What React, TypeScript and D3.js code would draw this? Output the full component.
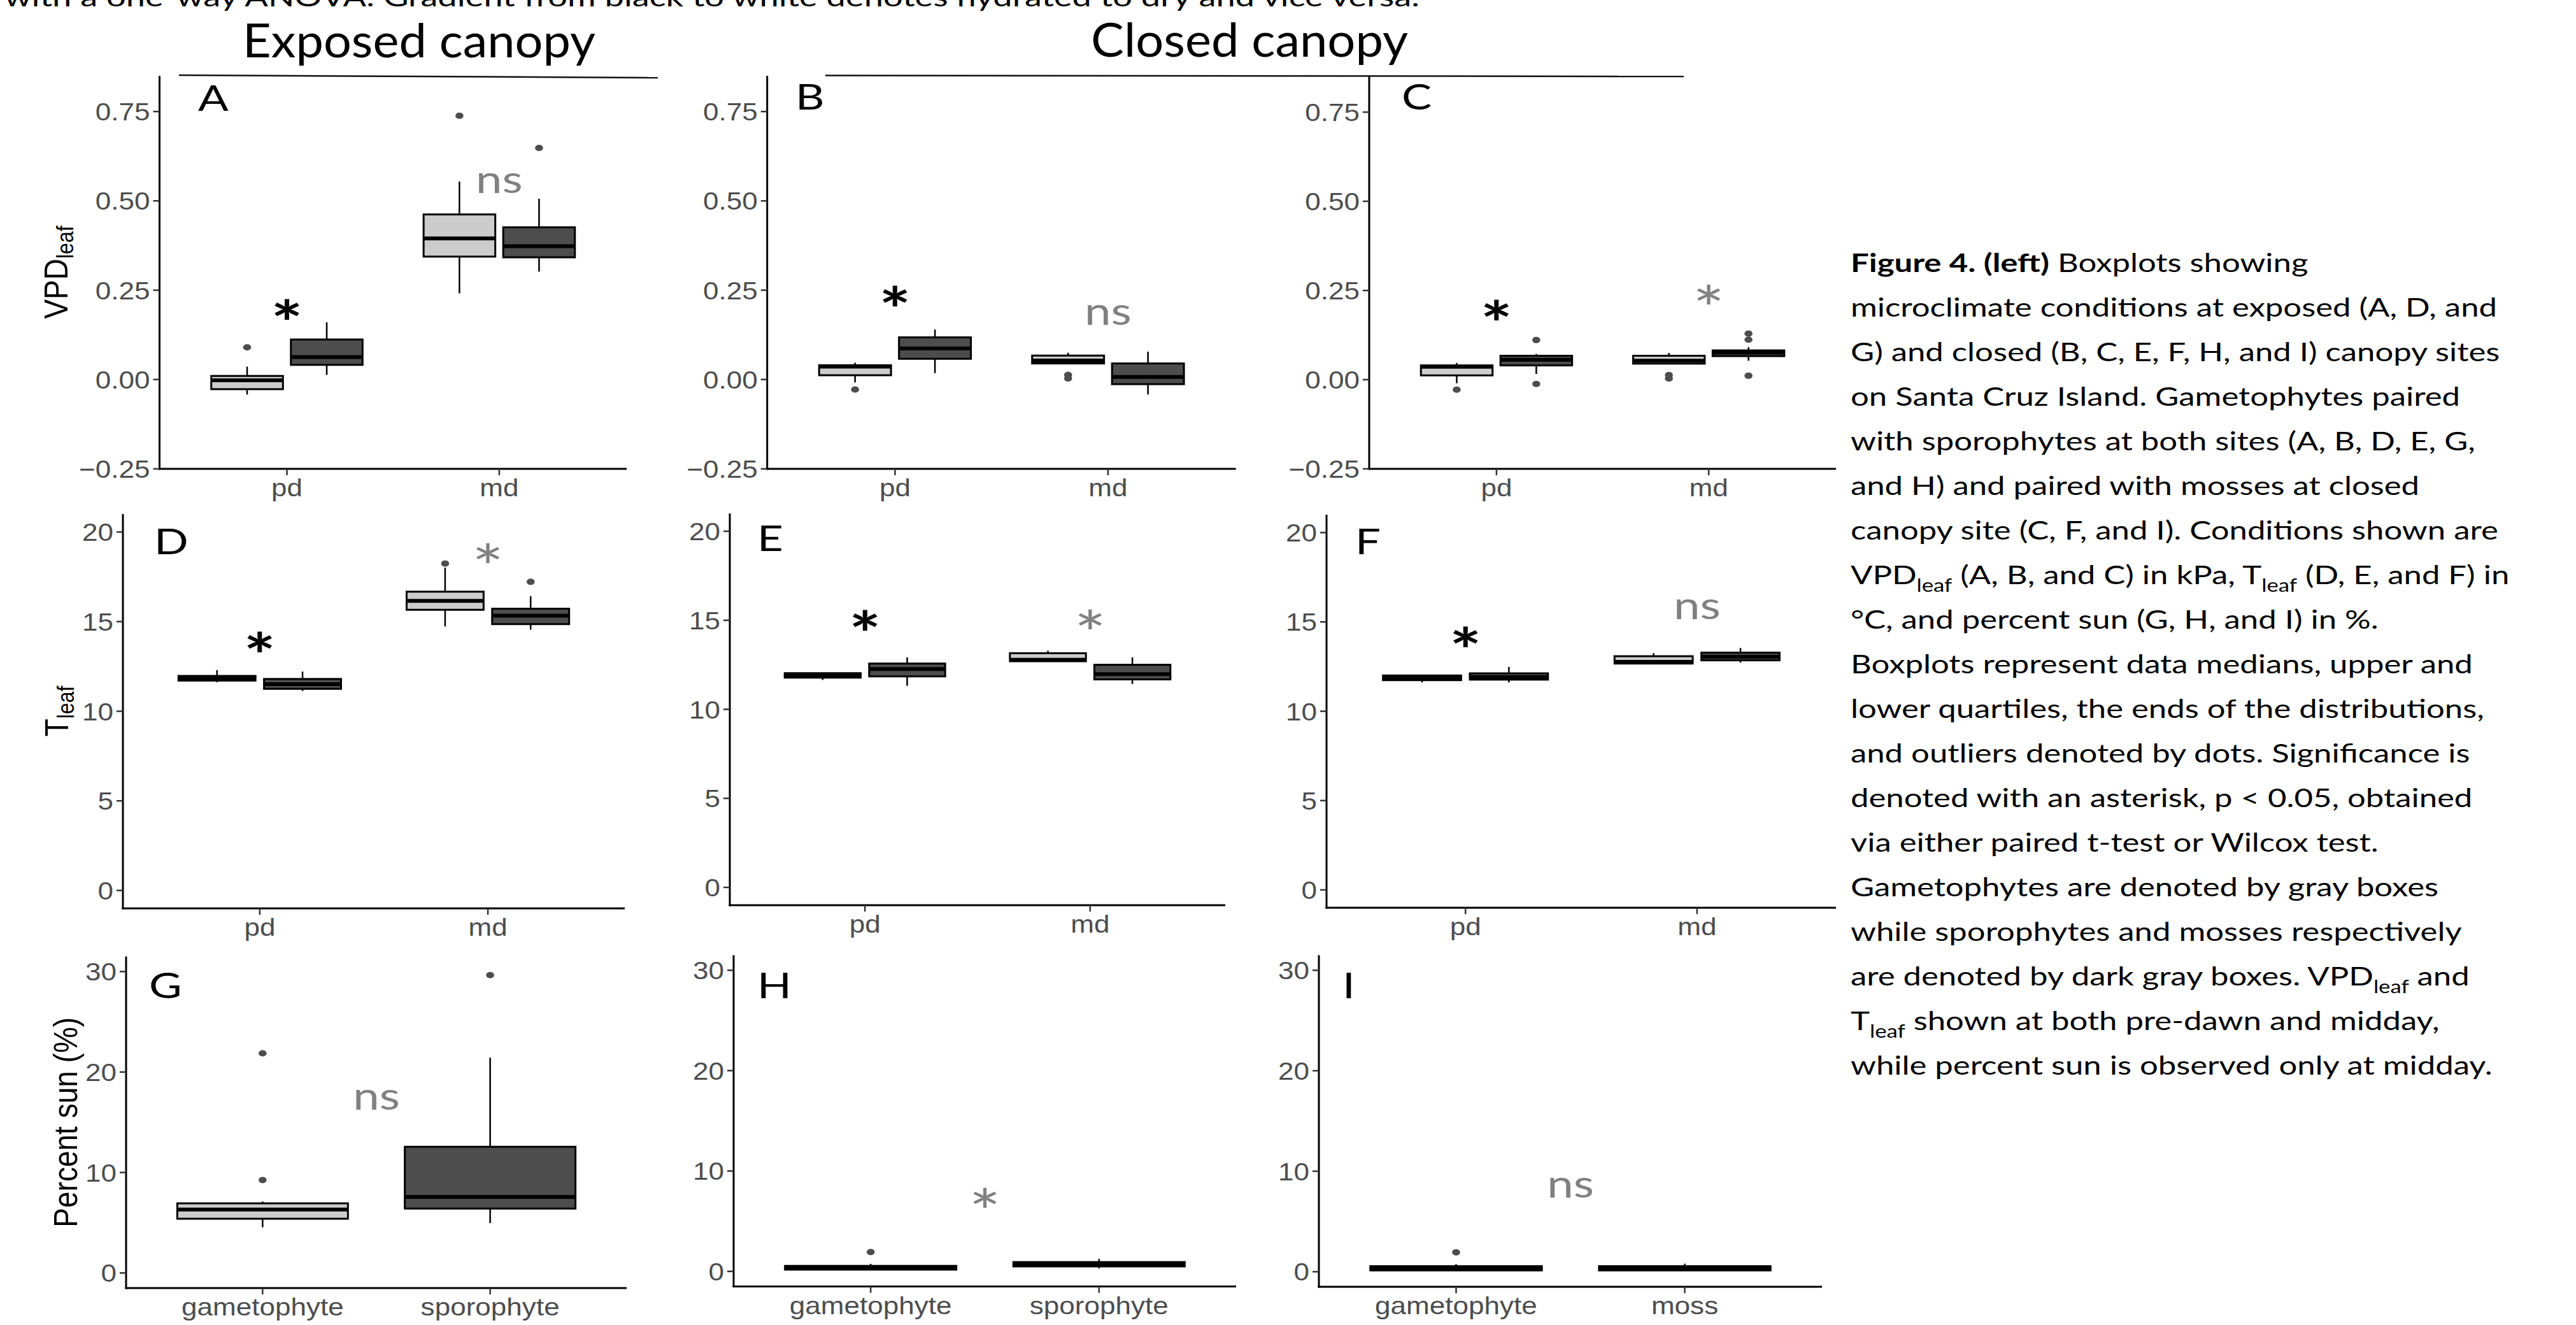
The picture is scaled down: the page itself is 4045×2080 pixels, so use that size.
import React from "react";
import * as d3 from "d3";

// the source picture is stretched sideways, so text is widened by these factors
const SX = 1.24;
const SX_PLOT = 1.13;
const SANS = "'Liberation Sans', Arial, Helvetica, sans-serif";
const CALI = "Lato, Carlito, Calibri, sans-serif";
const GAM_FILL = "#cccccc";
const PAIR_FILL = "#4d4d4d";
const NOTE_GRAY = "#808080";
const TICK_GRAY = "#4d4d4d";

const timeCats = ["pd", "md"];
const sunCatsSporo = ["gametophyte", "sporophyte"];
const sunCatsMoss = ["gametophyte", "moss"];
const groups = ["gam", "pair"];

const vpdTicks = [-0.25, 0, 0.25, 0.5, 0.75];
const tleafTicks = [0, 5, 10, 15, 20];
const sunTicks = [0, 10, 20, 30];

const vpdDomain = [-0.25, 0.85];
const tleafDomain = [-1, 21];
const sunDomain = [-1.5, 31.5];

// box rows: [category, group, lower whisker, q1, median, q3, upper whisker]
// outliers: [category, group, value]
// significance: [category ("mid" = between), label, y value, colour key]
const vpdA = [
  ["pd", "gam", -0.042, -0.027, -0.002, 0.010, 0.036],
  ["pd", "pair", 0.013, 0.041, 0.063, 0.112, 0.160],
  ["md", "gam", 0.241, 0.344, 0.395, 0.462, 0.554],
  ["md", "pair", 0.302, 0.342, 0.373, 0.426, 0.506],
];
const vpdAOut = [["pd", "gam", 0.090], ["md", "gam", 0.738], ["md", "pair", 0.648]];
const vpdASig = [["pd", "*", 0.193, "k"], ["md", "ns", 0.548, "g"]];

const vpdB = [
  ["pd", "gam", -0.008, 0.012, 0.036, 0.040, 0.047],
  ["pd", "pair", 0.018, 0.058, 0.087, 0.118, 0.140],
  ["md", "gam", 0.045, 0.045, 0.053, 0.067, 0.075],
  ["md", "pair", -0.042, -0.013, 0.007, 0.045, 0.078],
];
const vpdBOut = [["pd", "gam", -0.028], ["md", "gam", 0.013], ["md", "gam", 0.003]];
const vpdBSig = [["pd", "*", 0.231, "k"], ["md", "ns", 0.18, "g"]];

const vpdC = [
  ["pd", "gam", -0.010, 0.012, 0.036, 0.040, 0.047],
  ["pd", "pair", 0.016, 0.040, 0.056, 0.067, 0.072],
  ["md", "gam", 0.045, 0.045, 0.053, 0.067, 0.075],
  ["md", "pair", 0.053, 0.066, 0.076, 0.082, 0.091],
];
const vpdCOut = [
  ["pd", "gam", -0.028], ["pd", "pair", 0.111], ["pd", "pair", -0.012],
  ["md", "gam", 0.013], ["md", "gam", 0.003],
  ["md", "pair", 0.129], ["md", "pair", 0.112], ["md", "pair", 0.011],
];
const vpdCSig = [["pd", "*", 0.193, "k"], ["md", "*", 0.233, "g"]];

const tleafD = [
  ["pd", "gam", 11.62, 11.71, 11.85, 11.97, 12.29],
  ["pd", "pair", 11.13, 11.25, 11.51, 11.80, 12.21],
  ["md", "gam", 14.73, 15.66, 16.16, 16.67, 18.01],
  ["md", "pair", 14.55, 14.86, 15.33, 15.72, 16.42],
];
const tleafDOut = [["md", "gam", 18.24], ["md", "pair", 17.22]];
const tleafDSig = [["pd", "*", 13.8, "k"], ["md", "*", 18.7, "g"]];

const tleafE = [
  ["pd", "gam", 11.65, 11.78, 11.89, 12.03, 12.03],
  ["pd", "pair", 11.32, 11.85, 12.26, 12.57, 12.92],
  ["md", "gam", 12.70, 12.70, 12.78, 13.15, 13.29],
  ["md", "pair", 11.42, 11.68, 11.98, 12.50, 12.92],
];
const tleafEOut = [];
const tleafESig = [["pd", "*", 14.94, "k"], ["md", "*", 14.94, "g"]];

const tleafF = [
  ["pd", "gam", 11.61, 11.74, 11.87, 12.00, 12.00],
  ["pd", "pair", 11.61, 11.77, 11.91, 12.12, 12.48],
  ["md", "gam", 12.67, 12.67, 12.76, 13.08, 13.25],
  ["md", "pair", 12.72, 12.85, 13.05, 13.28, 13.54],
];
const tleafFOut = [];
const tleafFSig = [["pd", "*", 14.1, "k"], ["md", "ns", 15.67, "g"]];

const sunG = [
  ["gametophyte", "gam", 4.55, 5.40, 6.31, 6.93, 7.11],
  ["sporophyte", "pair", 4.97, 6.41, 7.56, 12.56, 21.43],
];
const sunGOut = [["gametophyte", "gam", 9.25], ["gametophyte", "gam", 21.86], ["sporophyte", "pair", 29.65]];
const sunGSig = [["mid", "ns", 17.2, "g"]];

const sunH = [
  ["gametophyte", "gam", 0.18, 0.18, 0.35, 0.55, 0.75],
  ["sporophyte", "pair", 0.30, 0.50, 0.72, 0.93, 1.25],
];
const sunHOut = [["gametophyte", "gam", 1.93]];
const sunHSig = [["mid", "*", 7.14, "g"]];

const sunI = [
  ["gametophyte", "gam", 0.13, 0.13, 0.30, 0.55, 0.75],
  ["moss", "pair", 0.13, 0.13, 0.30, 0.55, 0.80],
];
const sunIOut = [["gametophyte", "gam", 1.93]];
const sunISig = [["mid", "ns", 8.35, "g"]];

const topLine = "with a one-way ANOVA. Gradient from black to white denotes hydrated to dry and vice versa.";

const captionLines = [
  "**Figure 4. (left)** Boxplots showing",
  "microclimate conditions at exposed (A, D, and",
  "G) and closed (B, C, E, F, H, and I) canopy sites",
  "on Santa Cruz Island. Gametophytes paired",
  "with sporophytes at both sites (A, B, D, E, G,",
  "and H) and paired with mosses at closed",
  "canopy site (C, F, and I). Conditions shown are",
  "VPD_leaf (A, B, and C) in kPa, T_leaf (D, E, and F) in",
  "°C, and percent sun (G, H, and I) in %.",
  "Boxplots represent data medians, upper and",
  "lower quartiles, the ends of the distributions,",
  "and outliers denoted by dots. Significance is",
  "denoted with an asterisk, p < 0.05, obtained",
  "via either paired t-test or Wilcox test.",
  "Gametophytes are denoted by gray boxes",
  "while sporophytes and mosses respectively",
  "are denoted by dark gray boxes. VPD_leaf  and",
  "T_leaf shown at both pre-dawn and midday,",
  "while percent sun is observed only at midday.",
];

const vpdFmt = d3.format(".2f");
const intFmt = d3.format("d");

const panels = [
  { id: "A", frame: [250.5, 984, 119, 736], letter: [311, 174], cats: timeCats, dodge: true,
    dom: vpdDomain, ticks: vpdTicks, fmt: vpdFmt, boxes: vpdA, outs: vpdAOut, sig: vpdASig,
    title: ["VPD", "leaf"], titleX: 106 },
  { id: "B", frame: [1204.7, 1940.6, 119, 736], letter: [1249, 172], cats: timeCats, dodge: true,
    dom: vpdDomain, ticks: vpdTicks, fmt: vpdFmt, boxes: vpdB, outs: vpdBOut, sig: vpdBSig },
  { id: "C", frame: [2150, 2883, 120, 736], letter: [2201, 172], cats: timeCats, dodge: true,
    dom: vpdDomain, ticks: vpdTicks, fmt: vpdFmt, boxes: vpdC, outs: vpdCOut, sig: vpdCSig },
  { id: "D", frame: [193, 981, 807, 1426], letter: [242, 870], cats: timeCats, dodge: true,
    dom: tleafDomain, ticks: tleafTicks, fmt: intFmt, boxes: tleafD, outs: tleafDOut, sig: tleafDSig,
    title: ["T", "leaf"], titleX: 107 },
  { id: "E", frame: [1146, 1924, 806, 1421], letter: [1189, 865], cats: timeCats, dodge: true,
    dom: tleafDomain, ticks: tleafTicks, fmt: intFmt, boxes: tleafE, outs: tleafEOut, sig: tleafESig },
  { id: "F", frame: [2083, 2883, 808, 1425], letter: [2128, 870], cats: timeCats, dodge: true,
    dom: tleafDomain, ticks: tleafTicks, fmt: intFmt, boxes: tleafF, outs: tleafFOut, sig: tleafFSig },
  { id: "G", frame: [198, 984, 1501.5, 2022], letter: [234, 1567], cats: sunCatsSporo, dodge: false,
    dom: sunDomain, ticks: sunTicks, fmt: intFmt, boxes: sunG, outs: sunGOut, sig: sunGSig,
    title: ["Percent sun (%)", ""], titleX: 121 },
  { id: "H", frame: [1152, 1941, 1499.5, 2019.5], letter: [1189, 1567], cats: sunCatsSporo, dodge: false,
    dom: sunDomain, ticks: sunTicks, fmt: intFmt, boxes: sunH, outs: sunHOut, sig: sunHSig },
  { id: "I", frame: [2071, 2861, 1499.5, 2020], letter: [2108, 1567], cats: sunCatsMoss, dodge: false,
    dom: sunDomain, ticks: sunTicks, fmt: intFmt, boxes: sunI, outs: sunIOut, sig: sunISig },
];

function SText({ x, y, size, family, fill = "black", anchor = "start", weight = "normal", rotate = 0, sx = SX, children }: any) {
  const t = `translate(${x},${y}) scale(${sx},1)` + (rotate ? ` rotate(${rotate})` : "");
  return (
    <text transform={t} fontSize={size} fontFamily={family} fill={fill} textAnchor={anchor} fontWeight={weight}>
      {children}
    </text>
  );
}

function Panel({ p }: any) {
  const [x0, x1, yTop, yBot] = p.frame;
  const x = d3.scalePoint().domain(p.cats).range([x0, x1]).padding(0.6);
  const step = x.step();
  const y = d3.scaleLinear().domain(p.dom).range([yBot, yTop]);
  const sub = d3.scaleBand().domain(groups).range([-0.375 * step, 0.375 * step]);
  const bw = p.dodge ? sub.bandwidth() * 0.9 : 0.75 * step;
  const cx = (c: string, g: string) => (x(c) as number) + (p.dodge ? (sub(g) as number) + sub.bandwidth() / 2 : 0);

  return (
    <g>
      {p.boxes.map((b: any, i: number) => {
        const [c, g, lw, q1, med, q3, uw] = b;
        const xc = cx(c, g);
        return (
          <g key={i}>
            <line x1={xc} x2={xc} y1={y(q3)} y2={y(uw)} stroke="black" strokeWidth={2.5} />
            <line x1={xc} x2={xc} y1={y(q1)} y2={y(lw)} stroke="black" strokeWidth={2.5} />
            <rect x={xc - bw / 2} y={y(q3)} width={bw} height={y(q1) - y(q3)}
              fill={g === "gam" ? GAM_FILL : PAIR_FILL} stroke="black" strokeWidth={3} />
            <line x1={xc - bw / 2} x2={xc + bw / 2} y1={y(med)} y2={y(med)} stroke="black" strokeWidth={6} />
          </g>
        );
      })}
      {p.outs.map((o: any, i: number) => (
        <ellipse key={i} cx={cx(o[0], o[1])} cy={y(o[2])} rx={6.3} ry={5} fill="#4d4d4d" />
      ))}
      {p.sig.map((s: any, i: number) => {
        const [c, label, v, col] = s;
        const xs = c === "mid" ? ((x(p.cats[0]) as number) + (x(p.cats[1]) as number)) / 2 : (x(c) as number);
        const isStar = label === "*";
        const size = isStar ? 96 : 60;
        const base = isStar ? y(v) + 0.57 * size : y(v) + 0.25 * size;
        return (
          <SText key={i} x={xs} y={base} size={size} family={CALI} anchor="middle"
            weight={isStar && col === "k" ? "bold" : "normal"} fill={col === "k" ? "black" : NOTE_GRAY}>
            {label}
          </SText>
        );
      })}
      <line x1={x0} x2={x0} y1={yTop} y2={yBot + 1.5} stroke="black" strokeWidth={3} />
      <line x1={x0 - 1.5} x2={x1} y1={yBot} y2={yBot} stroke="black" strokeWidth={3} />
      {p.ticks.map((t: number) => (
        <g key={t}>
          <line x1={x0 - 10} x2={x0} y1={y(t)} y2={y(t)} stroke="#333" strokeWidth={2.5} />
          <SText x={x0 - 15} y={y(t) + 14} size={39} sx={SX_PLOT} family={SANS} fill={TICK_GRAY} anchor="end">
            {p.fmt(t)}
          </SText>
        </g>
      ))}
      {p.cats.map((c: string) => (
        <g key={c}>
          <line x1={x(c)} x2={x(c)} y1={yBot} y2={yBot + 10} stroke="#333" strokeWidth={2.5} />
          <SText x={x(c)} y={yBot + 43} size={39} sx={SX_PLOT} family={SANS} fill={TICK_GRAY} anchor="middle">
            {c}
          </SText>
        </g>
      ))}
      <SText x={p.letter[0]} y={p.letter[1]} size={57} family={CALI}>{p.id}</SText>
      {p.title && (
        <SText x={p.titleX} y={(yTop + yBot) / 2} size={46} sx={SX_PLOT} family={SANS} anchor="middle" rotate={-90}>
          {p.title[0]}
          {p.title[1] && <tspan fontSize={32} dy={8}>{p.title[1]}</tspan>}
        </SText>
      )}
    </g>
  );
}

function CaptionLine({ text, x, y }: any) {
  const parts = text.split(/(\*\*[^*]+\*\*|_leaf)/).filter((s: string) => s.length);
  let shifted = false;
  return (
    <SText x={x} y={y} size={41} family={CALI}>
      {parts.map((s: string, i: number) => {
        if (s.startsWith("**")) return <tspan key={i} fontWeight="bold">{s.slice(2, -2)}</tspan>;
        if (s === "_leaf") {
          shifted = true;
          return <tspan key={i} fontSize={28} dy={12}>leaf</tspan>;
        }
        const dy = shifted ? -12 : 0;
        shifted = false;
        return <tspan key={i} dy={dy}>{s}</tspan>;
      })}
    </SText>
  );
}

export default function App() {
  return (
    <svg width={4045} height={2080} style={{ position: "absolute", left: 0, top: 0, background: "white" }}>
      <rect width={4045} height={2080} fill="white" />
      <text x={7} y={10} fontSize={41} fontFamily={CALI} textLength={2222} lengthAdjust="spacingAndGlyphs">
        {topLine}
      </text>

      <text x={658} y={89.5} fontSize={73} fontFamily={CALI} textAnchor="middle" textLength={554} lengthAdjust="spacingAndGlyphs">
        Exposed canopy
      </text>
      <text x={1962} y={88.5} fontSize={73} fontFamily={CALI} textAnchor="middle" textLength={498} lengthAdjust="spacingAndGlyphs">
        Closed canopy
      </text>
      <line x1={281} y1={118} x2={1033} y2={122} stroke="#111" strokeWidth={2.5} />
      <line x1={1296} y1={118.5} x2={2644} y2={120} stroke="#111" strokeWidth={2.5} />

      {panels.map((p) => <Panel key={p.id} p={p} />)}

      {captionLines.map((t, i) => (
        <CaptionLine key={i} text={t} x={2906} y={427 + i * 70} />
      ))}
    </svg>
  );
}
